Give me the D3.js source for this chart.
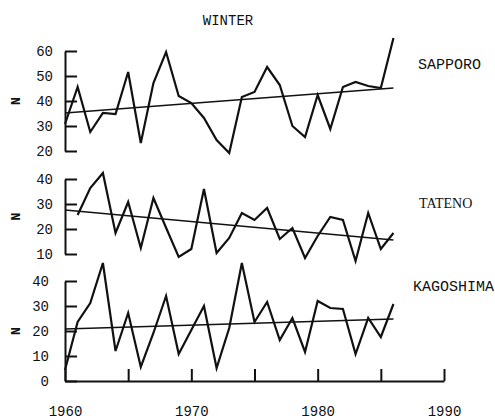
<!DOCTYPE html>
<html>
<head>
<meta charset="utf-8">
<script src="https://cdn.jsdelivr.net/npm/d3@7"></script>
<style>
  body { margin: 0; background: #fff; }
  svg text { font-family: "Liberation Mono", "DejaVu Sans Mono", monospace; fill: #111; }
</style>
</head>
<body>
<svg id="chart" width="495" height="420"></svg>
<script>
// winter counts per year
const years = [1960, 1961, 1962, 1963, 1964, 1965, 1966, 1967, 1968, 1969,
  1970, 1971, 1972, 1973, 1974, 1975, 1976, 1977, 1978, 1979,
  1980, 1981, 1982, 1983, 1984, 1985, 1986];
const tatenoYears = years.slice(1);

const sapporo = [30.8, 45.6, 27.6, 35.2, 34.8, 51.6, 23.2, 47.2, 59.6, 42,
  39.2, 33.2, 24.4, 19.2, 41.6, 43.6, 53.6, 46.4, 30, 25.6,
  42.4, 28.8, 45.6, 47.6, 46, 45.2, 65.2];
const tateno = [25.6, 36.4, 42.4, 18.4, 30.8, 12.4, 32.4, 20.5, 8.8,
  12, 36, 10.4, 16.4, 26.4, 23.6, 28.4, 16, 20.4, 8.4,
  17.2, 24.8, 23.6, 7.2, 26.4, 12, 18.4];
const kagoshima = [4.4, 23.6, 31.2, 47.2, 12, 27.2, 5.6, 19.2, 34, 10.8,
  20.4, 30, 5.2, 21.2, 47.2, 23.6, 31.6, 16.4, 25.2, 11.6,
  32, 29.2, 28.8, 10.8, 25.2, 17.6, 30.8];

// fitted trend lines, start and end value
const trendYears = [1960, 1986];
const sapporoTrend = [35.2, 45.2];
const tatenoTrend = [27.6, 15.6];
const kagoshimaTrend = [20.8, 24.8];

const sapporoTicks = [20, 30, 40, 50, 60];
const tatenoTicks = [10, 20, 30, 40];
const kagoshimaTicks = [0, 10, 20, 30, 40];
const xTicks = [1960, 1965, 1970, 1975, 1980, 1985, 1990];
const xLabels = [1960, 1970, 1980, 1990];

const svg = d3.select("#chart");

const x = d3.scaleLinear().domain([1960, 1990]).range([65, 444]);

const panels = [
  { name: "SAPPORO", yrs: years, values: sapporo, trend: sapporoTrend, ticks: sapporoTicks,
    range: [151, 51], pad: 12, labelX: 418, labelY: 69, font: null, size: 15 },
  { name: "TATENO", yrs: tatenoYears, values: tateno, trend: tatenoTrend, ticks: tatenoTicks,
    range: [254, 179], pad: 12, labelX: 419, labelY: 208, font: "Liberation Serif", size: 14 },
  { name: "KAGOSHIMA", yrs: years, values: kagoshima, trend: kagoshimaTrend, ticks: kagoshimaTicks,
    range: [381, 281], pad: 16, labelX: 413, labelY: 291, font: null, size: 15 }
];

svg.append("text")
  .attr("x", 228)
  .attr("y", 25)
  .attr("text-anchor", "middle")
  .style("font-size", "14px")
  .text("WINTER");

panels.forEach(p => {
  const y = d3.scaleLinear()
    .domain([p.ticks[0], p.ticks[p.ticks.length - 1]])
    .range(p.range);

  const g = svg.append("g");

  const axis = g.append("g")
    .attr("transform", "translate(" + x(1960) + ",0)")
    .call(d3.axisLeft(y)
      .tickValues(p.ticks)
      .tickSize(-12)
      .tickSizeOuter(0)
      .tickPadding(p.pad)
      .tickFormat(d3.format("d")));
  axis.selectAll("path, line").attr("stroke", "#111").attr("stroke-width", 2);
  axis.selectAll("text").style("font-size", "14px").attr("fill", "#111");

  g.append("text")
    .attr("transform", "translate(15," + (p.range[0] + p.range[1]) / 2 + ") rotate(-90)")
    .attr("text-anchor", "middle")
    .attr("dy", "0.35em")
    .style("font-size", "13px")
    .style("font-weight", "bold")
    .text("N");

  const line = d3.line()
    .x((d, i) => x(p.yrs[i]))
    .y(d => y(d));

  g.append("path")
    .datum(p.values)
    .attr("fill", "none")
    .attr("stroke", "#111")
    .attr("stroke-width", 2.2)
    .attr("stroke-linejoin", "miter")
    .attr("d", line);

  g.append("line")
    .attr("x1", x(trendYears[0]))
    .attr("y1", y(p.trend[0]))
    .attr("x2", x(trendYears[1]))
    .attr("y2", y(p.trend[1]))
    .attr("stroke", "#111")
    .attr("stroke-width", 1.3);

  g.append("text")
    .attr("x", p.labelX)
    .attr("y", p.labelY)
    .style("font-size", p.size + "px")
    .style("font-family", p.font)
    .text(p.name);
});

// time axis along the bottom panel
const xAxis = svg.append("g")
  .attr("transform", "translate(0,381)")
  .call(d3.axisBottom(x)
    .tickValues(xTicks)
    .tickSize(-12)
    .tickSizeOuter(0)
    .tickPadding(25)
    .tickFormat(d => (xLabels.includes(d) ? d : "")));
xAxis.selectAll("path, line").attr("stroke", "#111").attr("stroke-width", 2);
xAxis.selectAll("text").style("font-size", "14px").attr("fill", "#111");
</script>
</body>
</html>
